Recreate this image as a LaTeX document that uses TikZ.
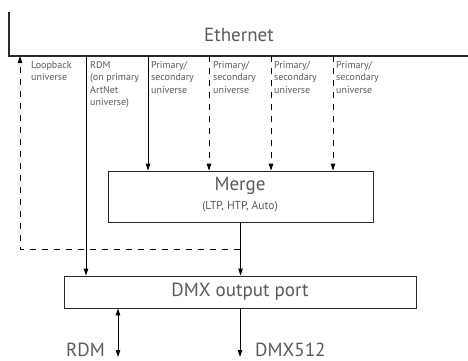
\documentclass[tikz,border=0pt]{standalone}
\usepackage{fontspec}
\setmainfont{PT Sans}
\usetikzlibrary{arrows.meta}
\definecolor{txt}{HTML}{5A5A5A}
\definecolor{edge}{HTML}{2A2A2A}
\tikzset{
  x=1pt, y=-1pt,
  arr/.style={line width=0.9pt, -{Triangle[length=7pt,width=4.5pt]}},
  darr/.style={arr, dash pattern=on 6pt off 6pt},
  boxnode/.style={draw=edge, line width=0.9pt, fill=white, inner sep=0pt, text=txt},
  lbl/.style={anchor=north west, inner sep=0pt, align=left, text=txt, font=\fontsize{10}{12.5}\selectfont},
  big/.style={text=txt, inner sep=0pt, font=\fontsize{19}{22}\selectfont},
}
\begin{document}
\begin{tikzpicture}
\useasboundingbox (0,0) rectangle (468,360);
% Ethernet
\draw[line width=1.3pt, edge] (9,12) -- (9,56) -- (468,56);
\node[big] (eth) at (239,35) {Ethernet};
\coordinate (eLoop) at (20,56);
\coordinate (eRdm) at (86,56);
\coordinate (eP1) at (148,56);
\coordinate (eP2) at (209,56);
\coordinate (eP3) at (271,56);
\coordinate (eP4) at (333,56);
% boxes
\node[boxnode, minimum width=265pt, minimum height=51pt] (merge) at (240.5,196.5) {};
\node[big] (mergeT) at (240,186) {Merge};
\node[text=txt, inner sep=0pt, font=\fontsize{11.5}{13}\selectfont] (mergeS) at (240,207) {(LTP, HTP, Auto)};
\node[boxnode, minimum width=352pt, minimum height=32pt, font=\fontsize{19}{22}\selectfont] (dmx) at (240,292) {DMX output port};
% labels
\node[lbl] (lLoop) at (31,61) {Loopback\\universe};
\node[lbl] (lRdm) at (90,61) {RDM\\(on primary\\ArtNet\\universe)};
\node[lbl] (lP1) at (151,61) {Primary/\\secondary\\universe};
\node[lbl] (lP2) at (213,61) {Primary/\\secondary\\universe};
\node[lbl] (lP3) at (274,61) {Primary/\\secondary\\universe};
\node[lbl] (lP4) at (336,61) {Primary/\\secondary\\universe};
% arrows into merge
\draw[arr] (eP1) -- (eP1 |- merge.north);
\draw[darr] (eP2) -- (eP2 |- merge.north);
\draw[darr] (eP3) -- (eP3 |- merge.north);
\draw[darr] (eP4) -- (eP4 |- merge.north);
% RDM line
\draw[arr] (eRdm) -- (eRdm |- dmx.north);
% merge out
\coordinate (mOut) at (merge.south);
\coordinate (split) at (240,249);
\draw[arr] (mOut) -- (mOut |- dmx.north);
\draw[darr] (split) -- (split -| eLoop) -- (eLoop);
% outputs
\coordinate (rdmEnd) at (118,357);
\coordinate (dmxEnd) at (240,357);
\draw[line width=0.9pt, {Triangle[length=7pt,width=4.5pt]}-{Triangle[length=7pt,width=4.5pt]}] (rdmEnd |- dmx.south) -- (rdmEnd);
\draw[arr] (dmxEnd |- dmx.south) -- (dmxEnd);
\node[big, anchor=base east] (rdmL) at (105,356) {RDM};
\node[big, anchor=base west] (dmxL) at (255,356) {DMX512};
\end{tikzpicture}
\end{document}
